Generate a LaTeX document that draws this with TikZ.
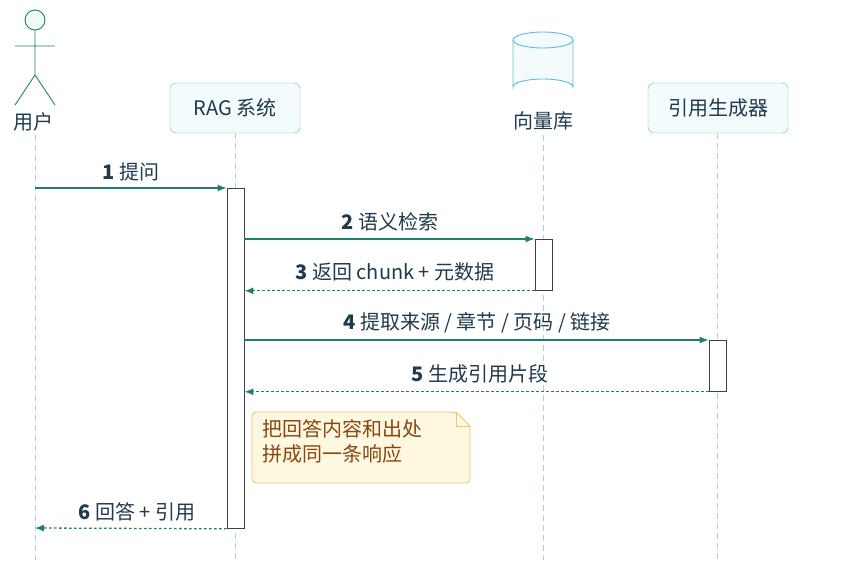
\documentclass[tikz,border=0pt]{standalone}
\usepackage{fontspec}
\setmainfont{Noto Sans CJK SC}
\usetikzlibrary{arrows.meta}
\definecolor{teal1}{HTML}{1F7F6E}
\definecolor{lbl}{HTML}{1E3A4C}
\definecolor{boxf}{HTML}{F4FBFD}
\definecolor{boxd}{HTML}{5FBAD8}
\definecolor{actf}{HTML}{EEFAF3}
\definecolor{lifel}{HTML}{A9D2E6}
\definecolor{notef}{HTML}{FFF8E1}
\definecolor{noted}{HTML}{F0C36D}
\definecolor{notet}{HTML}{8A4510}
\tikzset{
 part/.style={draw=boxd,fill=boxf,rounded corners=6pt,minimum width=130pt,minimum height=50pt,text=lbl,font=\fontsize{20}{22}\selectfont},
 life/.style={draw=lifel,dash pattern=on 6pt off 4pt,line width=0.8pt},
 act/.style={draw=black!75,fill=white,line width=0.8pt},
 msg/.style={draw=teal1,line width=1.3pt,-{Latex[length=9pt,width=7pt]}},
 ret/.style={msg,dash pattern=on 2.5pt off 2.5pt},
 ml/.style={text=lbl,font=\fontsize{20}{22}\selectfont}
}
\begin{document}
\begin{tikzpicture}[x=1pt,y=-1pt]
\useasboundingbox (0,0) rectangle (852,560);
% lifelines
\coordinate (uT) at (35,135); \coordinate (uB) at (35,560);
\coordinate (rT) at (235,133); \coordinate (rB) at (235,560);
\coordinate (vT) at (543,135); \coordinate (vB) at (543,560);
\coordinate (gT) at (717,133); \coordinate (gB) at (717,560);
\draw[life] (uT)--(uB); \draw[life] (rT)--(rB); \draw[life] (vT)--(vB); \draw[life] (gT)--(gB);
% actor
\draw[teal1,fill=actf,line width=0.9pt] (35,20) circle (10);
\draw[teal1,line width=0.9pt] (35,30)--(35,75) (15,46)--(55,46) (35,75)--(15,105) (35,75)--(55,105);
\node[ml] (user) at (33,122) {用户};
% participants
\node[part] (rag) at (235,108) {RAG 系统};
\node[part,minimum width=140pt] (gen) at (718,108) {引用生成器};
% cylinder
\draw[boxd,fill=boxf,line width=0.9pt] (513,40) -- (513,87) arc[start angle=180,end angle=360,x radius=30,y radius=8] -- (573,40);
\draw[boxd,fill=boxf,line width=0.9pt] (543,40) ellipse[x radius=30,y radius=8];
\node[ml] (db) at (543,121) {向量库};
% activations
\node[act,minimum width=17pt,minimum height=340pt,inner sep=0,anchor=north] (aR) at (235.5,188) {};
\node[act,minimum width=17pt,minimum height=51pt,inner sep=0,anchor=north] (aV) at (543.5,239) {};
\node[act,minimum width=17pt,minimum height=51pt,inner sep=0,anchor=north] (aG) at (717.5,340) {};
% messages
\coordinate (m1s) at (35,188);
\draw[msg] (m1s) -- (aR.north west);
\node[ml] (l1) at (131,172) {\textbf{1} 提问};
\draw[msg] (aR.east |- aV.north) -- (aV.north west);
\node[ml] (l2) at (390,222) {\textbf{2} 语义检索};
\draw[ret] (aV.south west) -- (aR.east |- aV.south);
\node[ml] (l3) at (395,272) {\textbf{3} 返回 chunk + 元数据};
\draw[msg] (aR.east |- aG.north) -- (aG.north west);
\node[ml] (l4) at (477,323) {\textbf{4} 提取来源 / 章节 / 页码 / 链接};
\draw[ret] (aG.south west) -- (aR.east |- aG.south);
\node[ml] (l5) at (480,374) {\textbf{5} 生成引用片段};
% note
\draw[noted,fill=notef,line width=0.9pt,rounded corners=4pt] (252,412) -- (456,412) [sharp corners]-- (470,426) [rounded corners=4pt]-- (470,483) -- (252,483) -- cycle;
\draw[noted,line width=0.9pt] (456,412) -- (456,426) -- (470,426);
\node[text=notet,font=\fontsize{20}{25}\selectfont,align=left,anchor=north west] (note) at (259,416) {把回答内容和出处\\拼成同一条响应};
% reply
\coordinate (m6e) at (35,528);
\draw[ret] (aR.south west) -- (m6e);
\node[ml] (l6) at (137,512) {\textbf{6} 回答 + 引用};
\end{tikzpicture}
\end{document}
